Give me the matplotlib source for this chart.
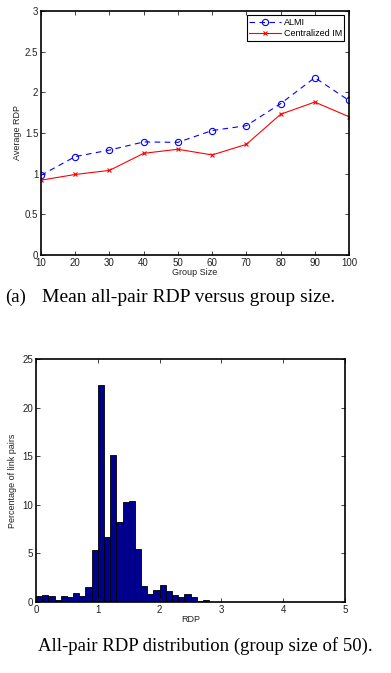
import matplotlib
matplotlib.use('Agg')
import matplotlib.pyplot as plt
import numpy as np

plt.rcParams['font.family'] = ['Liberation Sans', 'DejaVu Sans']

# ---- data: mean RDP vs group size ----
group_size = [10, 20, 30, 40, 50, 60, 70, 80, 90, 100]
almi_rdp = [0.98, 1.21, 1.29, 1.39, 1.385, 1.53, 1.59, 1.86, 2.18, 1.90]
cim_rdp = [0.92, 0.99, 1.04, 1.25, 1.30, 1.23, 1.36, 1.73, 1.88, 1.70]

# ---- data: RDP histogram (group size 50), bin width 0.1 over [0, 5] ----
bin_width = 0.1
pct_link_pairs = [
    0.65, 0.75, 0.65, 0.17, 0.65, 0.50, 0.90, 0.65, 1.58, 5.40,
    22.3, 6.70, 15.1, 8.25, 10.25, 10.35, 5.50, 1.68, 0.85, 1.27,
    1.72, 1.17, 0.75, 0.48, 0.85, 0.48, 0.07, 0.24, 0.03, 0.03,
    0.02, 0.02, 0.02, 0.05, 0.02, 0.03, 0.05, 0.05, 0.05, 0.02,
    0.02, 0.02, 0.02, 0.02, 0.02, 0.05, 0.02, 0.02, 0.02, 0.02,
]
bin_left = np.arange(len(pct_link_pairs)) * bin_width

SERIF = ['Liberation Serif', 'DejaVu Serif']

fig = plt.figure(figsize=(3.91, 6.73), dpi=100)


def matlab_style(ax):
    for s in ax.spines.values():
        s.set_linewidth(1.2)
    ax.tick_params(direction='in', top=True, right=True, length=3,
                   width=0.6, labelsize=7, pad=2, colors='#222222',
                   labelcolor='#222222')


# ---- (a) line chart ----
ax1 = fig.add_axes([0.1049, 0.6211, 0.7877, 0.3626])
ax1.plot(group_size, almi_rdp, '--o', color='blue', lw=0.8, ms=4.5,
         mfc='none', mew=0.8, dashes=(5, 4), label='ALMI')
ax1.plot(group_size, cim_rdp, '-x', color='red', lw=0.8, ms=3,
         mew=0.8, label='Centralized IM')
ax1.set_xlim(10, 100)
ax1.set_ylim(0, 3)
ax1.set_xticks(group_size)
ax1.set_yticks([0, 0.5, 1, 1.5, 2, 2.5, 3])
ax1.set_yticklabels(['0', '0.5', '1', '1.5', '2', '2.5', '3'])
ax1.set_xlabel('Group Size', fontsize=6.5, labelpad=0, color='#222222')
ax1.set_ylabel('Average RDP', fontsize=6.5, labelpad=2, color='#222222')
matlab_style(ax1)
leg = ax1.legend(loc='upper right', fontsize=6.5, frameon=True, fancybox=False,
                 borderpad=0.3, handlelength=3.5, handletextpad=0.3,
                 labelspacing=0.2, borderaxespad=0.5)
leg.get_frame().set_edgecolor('black')
leg.get_frame().set_linewidth(0.8)
leg.get_frame().set_alpha(1)

fig.text(5 / 391, 0.558, '(a)', family=SERIF, fontsize=13.5,
         ha='left', va='center')
fig.text(42 / 391, 0.558, 'Mean all-pair RDP versus group size.',
         family=SERIF, fontsize=14, ha='left', va='center')

# ---- (b) histogram ----
ax2 = fig.add_axes([0.0921, 0.1055, 0.7903, 0.3611])
ax2.bar(bin_left, pct_link_pairs, width=bin_width, align='edge',
        color='#00008f', edgecolor='black', linewidth=0.6)
ax2.set_xlim(0, 5)
ax2.set_ylim(0, 25)
ax2.set_xticks([0, 1, 2, 3, 4, 5])
ax2.set_yticks([0, 5, 10, 15, 20, 25])
ax2.set_xlabel('RDP', fontsize=6.5, labelpad=0, color='#222222')
ax2.set_ylabel('Percentage of link pairs', fontsize=6.5, labelpad=4,
               color='#222222')
matlab_style(ax2)

fig.text(205 / 391, 0.040, 'All-pair RDP distribution (group size of 50).',
         family=SERIF, fontsize=13.5, ha='center', va='center')

fig.savefig('out.png', dpi=100)
